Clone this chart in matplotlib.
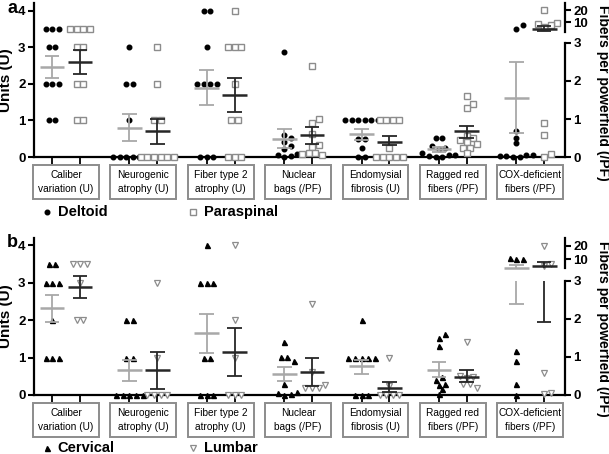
import numpy as np
import matplotlib
matplotlib.use('Agg')
import matplotlib.pyplot as plt
from matplotlib.patches import Rectangle
from matplotlib.lines import Line2D
from matplotlib.transforms import blended_transform_factory

plt.rcParams['font.family'] = ['Liberation Sans', 'DejaVu Sans']

categories = ['Caliber\nvariation (U)', 'Neurogenic\natrophy (U)', 'Fiber type 2\natrophy (U)',
              'Nuclear\nbags (/PF)', 'Endomysial\nfibrosis (U)', 'Ragged red\nfibers (/PF)',
              'COX-deficient\nfibers (/PF)']
per_pf = [False, False, False, True, False, True, True]

# panel a: deltoid vs paraspinal
deltoid = [
    [3.5, 3.5, 3.5, 3, 3, 2, 2, 2, 1, 1],
    [3, 2, 2, 1, 0, 0, 0, 0, 0, 0],
    [4, 4, 3, 2, 2, 2, 2, 0, 0, 0],
    [2.75, 0.57, 0.5, 0.4, 0.3, 0.2, 0.07, 0.05, 0.02, 0.0],
    [1, 1, 1, 1, 1, 1, 0.5, 0.5, 0.25, 0, 0],
    [0.5, 0.5, 0.3, 0.25, 0.2, 0.1, 0.05, 0.05, 0.0, 0.0, 0.02],
    [8.8, 7.0, 0.68, 0.5, 0.36, 0.06, 0.03, 0.06, 0.0, 0.0, 0.02],
]
paraspinal = [
    [3.5, 3.5, 3.5, 3.5, 3, 3, 2, 2, 1, 1],
    [3, 2, 1, 1, 0, 0, 0, 0, 0, 0],
    [4, 3, 3, 3, 2, 1, 1, 0, 0, 0],
    [2.4, 1.0, 0.9, 0.6, 0.32, 0.27, 0.12, 0.07, 0.12, 0.05],
    [1, 1, 1, 1, 0.25, 0, 0, 0, 0, 0],
    [1.6, 1.4, 1.3, 0.55, 0.5, 0.45, 0.4, 0.35, 0.25, 0.25, 0.12],
    [20.8, 9.8, 9.2, 8.6, 7.5, 0.9, 0.58, 0.0, 0.07],
]
deltoid_mean = [2.45, 0.80, 1.90, 0.47, 0.62, 0.20, 1.56]
deltoid_lo = [2.15, 0.43, 1.42, 0.23, 0.48, 0.14, 0.62]
deltoid_hi = [2.75, 1.17, 2.38, 0.73, 0.76, 0.27, 2.51]
paraspinal_mean = [2.60, 0.70, 1.70, 0.59, 0.42, 0.68, 6.9]
paraspinal_lo = [2.28, 0.36, 1.22, 0.34, 0.32, 0.51, 6.0]
paraspinal_hi = [2.92, 1.04, 2.17, 0.80, 0.58, 0.82, 8.1]

# panel b: cervical vs lumbar
cervical = [
    [3.5, 3.5, 3, 3, 3, 2, 1, 1, 1],
    [2, 2, 1, 1, 0, 0, 0, 0, 0],
    [4, 3, 3, 3, 1, 1, 0, 0, 0],
    [1.4, 1.0, 0.9, 1.0, 0.28, 0.05, 0.02, 0.08, 0.0],
    [2, 1, 1, 1, 1, 1, 0, 0, 0],
    [1.6, 1.5, 1.3, 0.48, 0.4, 0.3, 0.27, 0.15, 0.02],
    [10.6, 10.2, 10.4, 1.16, 0.9, 0.28, 0.0],
]
lumbar = [
    [3.5, 3.5, 3.5, 3, 2, 2],
    [3, 1, 0, 0, 0, 0],
    [4, 2, 1, 0, 0, 0],
    [2.4, 0.6, 0.26, 0.18, 0.18, 0.18],
    [1, 0.25, 0, 0, 0, 0],
    [1.4, 0.5, 0.48, 0.45, 0.28, 0.28, 0.18],
    [20, 7.8, 7.2, 0.59, 0.02, 0.06],
]
cervical_mean = [2.32, 0.66, 1.65, 0.54, 0.78, 0.67, 6.5]
cervical_lo = [1.94, 0.37, 1.13, 0.37, 0.55, 0.46, 2.39]
cervical_hi = [2.67, 0.94, 2.17, 0.73, 0.94, 0.88, 7.5]
lumbar_mean = [2.90, 0.66, 1.16, 0.61, 0.20, 0.47, 7.1]
lumbar_lo = [2.60, 0.17, 0.51, 0.24, 0.07, 0.35, 1.93]
lumbar_hi = [3.19, 1.15, 1.80, 0.97, 0.36, 0.66, 8.8]

BLACK = '#000000'
GREY = '#8c8c8c'
LIGHT = '#a8a8a8'
DARK = '#262626'

fig = plt.figure(figsize=(6.09, 4.54), dpi=100)
XMIN, XMAX = -0.414, 6.45
YTOP = 4.2
OFF = 0.18


def make_scale(k, c10, dec, u_s0):
    s0 = 10 ** (1 + (u_s0 - c10) / dec)

    def fwd(v):
        v = np.asarray(v, dtype=float)
        lin = k * v
        mid = k * 3 + (v - 3) / (s0 - 3) * (u_s0 - 3 * k)
        lg = c10 + (np.log10(np.maximum(v, 1e-9)) - 1) * dec
        return np.where(v <= 3, lin, np.where(v < s0, mid, lg))

    def inv(u):
        u = np.asarray(u, dtype=float)
        lin = u / k
        mid = 3 + (u - 3 * k) / (u_s0 - 3 * k) * (s0 - 3)
        lg = 10 ** (1 + (np.minimum(u, 10) - c10) / dec)
        return np.where(u <= 3 * k, lin, np.where(u < u_s0, mid, lg))
    return fwd, inv, s0


def swarm(u, px_x, px_y, d=0.085, diam=5.2):
    u = np.asarray(u, dtype=float)
    xo = np.zeros(len(u))
    vals, counts = np.unique(u, return_counts=True)
    order = sorted(range(len(vals)), key=lambda i: (-counts[i], vals[i]))
    placed = []
    shifts = [0]
    for j in range(1, 14):
        shifts += [j * d / 2, -j * d / 2]
    for i in order:
        idx = np.where(u == vals[i])[0]
        n = len(idx)
        base = (np.arange(n) - (n - 1) / 2) * d
        for s in shifts:
            xs = base + s
            ok = True
            for (px, pu) in placed:
                dist = np.hypot((xs - px) * px_x, (vals[i] - pu) * px_y)
                if np.any(dist < diam):
                    ok = False
                    break
            if ok:
                break
        for x_, k_ in zip(xs, idx):
            xo[k_] = x_
            placed.append((x_, vals[i]))
    return xo


def draw_panel(rect, s1, s2, m1, lo1, hi1, m2, lo2, hi2, style1, style2,
               names, scale, letter, box_y, leg_y):
    ax = fig.add_axes(rect)
    ax2 = ax.twinx()
    fwd, inv, s0 = make_scale(*scale)
    ax.set_xlim(XMIN, XMAX)
    ax.set_ylim(0, YTOP)
    ax2.set_yscale('function', functions=(fwd, inv))
    ax2.set_ylim(float(inv(0)), float(inv(YTOP)))

    px_x = 609 * rect[2] / (XMAX - XMIN)
    px_y = 454 * rect[3] / YTOP

    for i in range(len(categories)):
        target = ax2 if per_pf[i] else ax
        for sign, data, mean, lo, hi, st, ebc in [
                (-1, s1, m1, lo1, hi1, style1, LIGHT),
                (1, s2, m2, lo2, hi2, style2, DARK)]:
            x0 = i + sign * OFF
            vals = np.array(data[i], dtype=float)
            u = fwd(vals) if per_pf[i] else vals
            xo = swarm(u, px_x, px_y)
            target.plot(x0 + xo, vals, linestyle='none', clip_on=False, zorder=3, **st)
            # mean and error bar
            target.hlines(mean[i], x0 - 0.16, x0 + 0.16, color=ebc, lw=1.8, zorder=4)
            if per_pf[i] and lo[i] < 3 and hi[i] > s0:
                target.vlines(x0, lo[i], 3, color=ebc, lw=1.3, zorder=4)
                target.vlines(x0, s0, hi[i], color=ebc, lw=1.3, zorder=4)
            else:
                target.vlines(x0, lo[i], hi[i], color=ebc, lw=1.3, zorder=4)
            target.hlines([lo[i], hi[i]], x0 - 0.095, x0 + 0.095, color=ebc, lw=1.3, zorder=4)

    # left axis
    for sp in ['top', 'right']:
        ax.spines[sp].set_visible(False)
    ax.spines['left'].set_linewidth(1.6)
    ax.spines['bottom'].set_linewidth(1.6)
    ax.set_yticks([0, 1, 2, 3, 4])
    ax.tick_params(axis='y', direction='out', length=4, width=1.5, labelsize=9.5, pad=2)
    for t in ax.get_yticklabels():
        t.set_fontweight('bold')
    xt = []
    for i in range(len(categories)):
        xt += [i - OFF, i + OFF]
    ax.set_xticks(xt)
    ax.set_xticklabels([])
    ax.tick_params(axis='x', direction='out', length=5, width=1.3)
    ax.set_ylabel('Units (U)', fontsize=11, fontweight='bold', labelpad=4)

    # right broken axis
    for sp in ['top', 'left', 'bottom']:
        ax2.spines[sp].set_visible(False)
    ax2.spines['right'].set_linewidth(1.6)
    ax2.spines['right'].set_bounds(0, 3)
    ax2.plot([1, 1], [s0, float(inv(YTOP))], transform=ax2.get_yaxis_transform(),
             color='k', lw=1.6, clip_on=False)
    ax2.set_yticks([0, 1, 2, 3, 10, 20])
    ax2.set_yticklabels(['0', '1', '2', '3', '10', '20'])
    ax2.tick_params(axis='y', direction='out', length=4, width=1.5, labelsize=9.5, pad=2)
    for t in ax2.get_yticklabels():
        t.set_fontweight('bold')
    ax2.set_ylabel('Fibers per powerfield (/PF)', rotation=270, fontsize=10,
                   fontweight='bold', va='bottom')
    ax2.yaxis.set_label_coords(1.058, 0.42)

    # category boxes
    tr = blended_transform_factory(ax.transData, fig.transFigure)
    for i, name in enumerate(names):
        fig.add_artist(Rectangle((i - 0.425, box_y[1]), 0.85, box_y[0] - box_y[1],
                                 transform=tr, facecolor='white', edgecolor=GREY, lw=1.4))
        fig.text(0, (box_y[0] + box_y[1]) / 2, name, transform=tr, fontsize=7.3,
                 ha='center', va='center', linespacing=1.5)
        fig.texts[-1].set_x(i)

    # legend
    for (xm, st, lab) in [(0.077, style1, leg_y[0]), (0.317, style2, leg_y[1])]:
        fig.add_artist(Line2D([xm], [leg_y[2]], transform=fig.transFigure, linestyle='none', **st))
        fig.text(xm + 0.018, leg_y[2], lab, fontsize=10.5, fontweight='bold', va='center')

    fig.text(0.012, rect[1] + rect[3] + 0.008, letter, fontsize=13, fontweight='bold', va='top')
    return ax, ax2


dot = dict(marker='o', color=BLACK, markersize=3.3)
square = dict(marker='s', markerfacecolor='white', markeredgecolor=GREY, markersize=3.9, markeredgewidth=1.0)
tri_up = dict(marker='^', color=BLACK, markersize=3.6)
tri_dn = dict(marker='v', markerfacecolor='white', markeredgecolor=GREY, markersize=4.3, markeredgewidth=0.9)

draw_panel([0.0558, 0.654, 0.872, 0.3385], deltoid, paraspinal,
           deltoid_mean, deltoid_lo, deltoid_hi, paraspinal_mean, paraspinal_lo, paraspinal_hi,
           dot, square, categories, (1.04, 3.68, 1.1, 3.42), 'a',
           (0.6366, 0.5618), ('Deltoid', 'Paraspinal', 0.533))

draw_panel([0.0558, 0.130, 0.872, 0.3458], cervical, lumbar,
           cervical_mean, cervical_lo, cervical_hi, lumbar_mean, lumbar_lo, lumbar_hi,
           tri_up, tri_dn, categories, (1.017, 3.63, 1.2, 3.40), 'b',
           (0.1123, 0.0374), ('Cervical', 'Lumbar', 0.0132))

fig.savefig('out.png', dpi=100)
